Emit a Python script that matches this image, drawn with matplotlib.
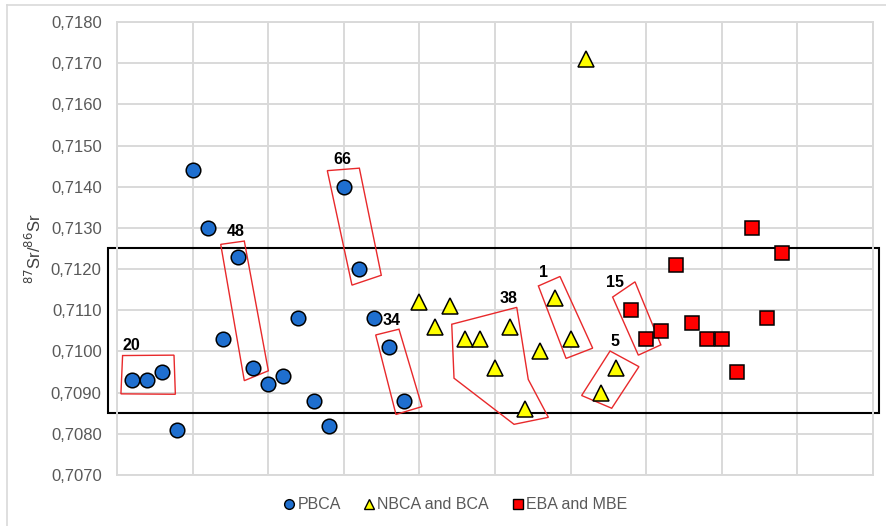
import matplotlib
matplotlib.use("Agg")
import matplotlib.pyplot as plt
from matplotlib.patches import Polygon, Rectangle
from matplotlib.lines import Line2D
from matplotlib.ticker import FuncFormatter, MultipleLocator

plt.rcParams['font.family'] = ['Liberation Sans', 'DejaVu Sans']

# sample index and 87Sr/86Sr values per group
pbca_x = list(range(1, 20))
pbca_y = [0.7093, 0.7093, 0.7095, 0.7081, 0.7144, 0.7130, 0.7103, 0.7123, 0.7096,
          0.7092, 0.7094, 0.7108, 0.7088, 0.7082, 0.7140, 0.7120, 0.7108, 0.7101, 0.7088]
nbca_x = list(range(20, 34))
nbca_y = [0.7112, 0.7106, 0.7111, 0.7103, 0.7103, 0.7096, 0.7106, 0.7086, 0.7100,
          0.7113, 0.7103, 0.7171, 0.7090, 0.7096]
eba_x = list(range(34, 45))
eba_y = [0.7110, 0.7103, 0.7105, 0.7121, 0.7107, 0.7103, 0.7103, 0.7095, 0.7130,
         0.7108, 0.7124]

# red outlines of sample groups (data coords) and their labels
groups = {
    "20": ([(0.37, 0.70990), (3.77, 0.70991), (3.86, 0.70896), (0.26, 0.70897)], (0.97, 0.70995)),
    "48": ([(6.86, 0.71260), (8.42, 0.71268), (10.01, 0.70953), (8.42, 0.70929)], (7.85, 0.71272)),
    "66": ([(13.91, 0.71439), (16.03, 0.71445), (17.48, 0.71185), (15.54, 0.71161)], (14.93, 0.71448)),
    "34": ([(17.11, 0.71040), (18.65, 0.71054), (20.17, 0.70866), (18.45, 0.70847)], (18.17, 0.71057)),
    "38": ([(22.14, 0.71066), (26.44, 0.71107), (27.20, 0.70932), (28.53, 0.70840),
            (26.26, 0.70823), (22.29, 0.70935)], (25.88, 0.71110)),
    "1": ([(27.87, 0.71159), (29.30, 0.71182), (31.46, 0.71008), (29.70, 0.70983)], (28.2, 0.71173)),
    "15": ([(32.78, 0.71132), (34.26, 0.71169), (35.97, 0.71016), (34.48, 0.70991)], (32.94, 0.71148)),
    "5": ([(32.61, 0.71001), (34.52, 0.70963), (32.72, 0.70862), (30.73, 0.70893)], (32.94, 0.71005)),
}

fig = plt.figure(figsize=(8.87, 5.26), dpi=100)
ax = fig.add_axes([0.1319, 0.0970, 0.8523, 0.8612])
grid_c = '#d9d9d9'

ax.set_xlim(0, 50)
ax.set_ylim(0.7070, 0.7180)
ax.xaxis.set_major_locator(MultipleLocator(5))
ax.yaxis.set_major_locator(MultipleLocator(0.001))
ax.yaxis.set_major_formatter(FuncFormatter(lambda v, p: f"{v:.4f}".replace('.', ',')))
ax.grid(True, color=grid_c, linewidth=1.4)
ax.set_axisbelow(True)
for s in ax.spines.values():
    s.set_color(grid_c)
    s.set_linewidth(1.4)
ax.tick_params(axis='x', length=0, labelbottom=False)
ax.tick_params(axis='y', length=0, labelsize=12, labelcolor='#595959', pad=11)
ax.set_ylabel(r'$^{87}$Sr/$^{86}$Sr', fontsize=12, color='#404040', labelpad=5)

ax.add_patch(Rectangle((-0.6, 0.7085), 51.0, 0.0040, fill=False, edgecolor='black',
                       linewidth=1.5, clip_on=False, zorder=2))

for name, (verts, (lx, ly)) in groups.items():
    ax.add_patch(Polygon(verts, closed=True, fill=False, edgecolor='#e8292b',
                         linewidth=1.0, zorder=2))
    ax.text(lx, ly, name, fontsize=11.5, fontweight='bold', ha='center', va='bottom', zorder=4)

ax.plot(pbca_x, pbca_y, 'o', ms=10.5, mfc='#1f6fcf', mec='black', mew=1.1,
        label='PBCA', zorder=3)
ax.plot(nbca_x, nbca_y, '^', ms=11, mfc='#ffff00', mec='black', mew=1.1,
        label='NBCA and BCA', zorder=3)
ax.plot(eba_x, eba_y, 's', ms=10, mfc='#ff0000', mec='black', mew=1.1,
        label='EBA and MBE', zorder=3)

leg_handles = [
    Line2D([], [], ls='', marker='o', ms=7, mfc='#1f6fcf', mec='black', mew=1.0),
    Line2D([], [], ls='', marker='^', ms=7, mfc='#ffff00', mec='black', mew=1.0),
    Line2D([], [], ls='', marker='s', ms=7, mfc='#ff0000', mec='black', mew=1.0),
]
leg = fig.legend(leg_handles, ['PBCA', 'NBCA and BCA', 'EBA and MBE'], loc='center',
                 bbox_to_anchor=(0.513, 0.04), ncol=3, frameon=False, fontsize=11.5,
                 handlelength=0.8, handletextpad=0.1, columnspacing=1.4)
for t in leg.get_texts():
    t.set_color('#595959')

# chart area border
fig.add_artist(Line2D([7 / 887, 7 / 887], [0, 1 - 5 / 526], color=grid_c, lw=1.2))
fig.add_artist(Line2D([7 / 887, 1], [1 - 5 / 526, 1 - 5 / 526], color=grid_c, lw=1.2))

fig.savefig('out.png', dpi=100)
